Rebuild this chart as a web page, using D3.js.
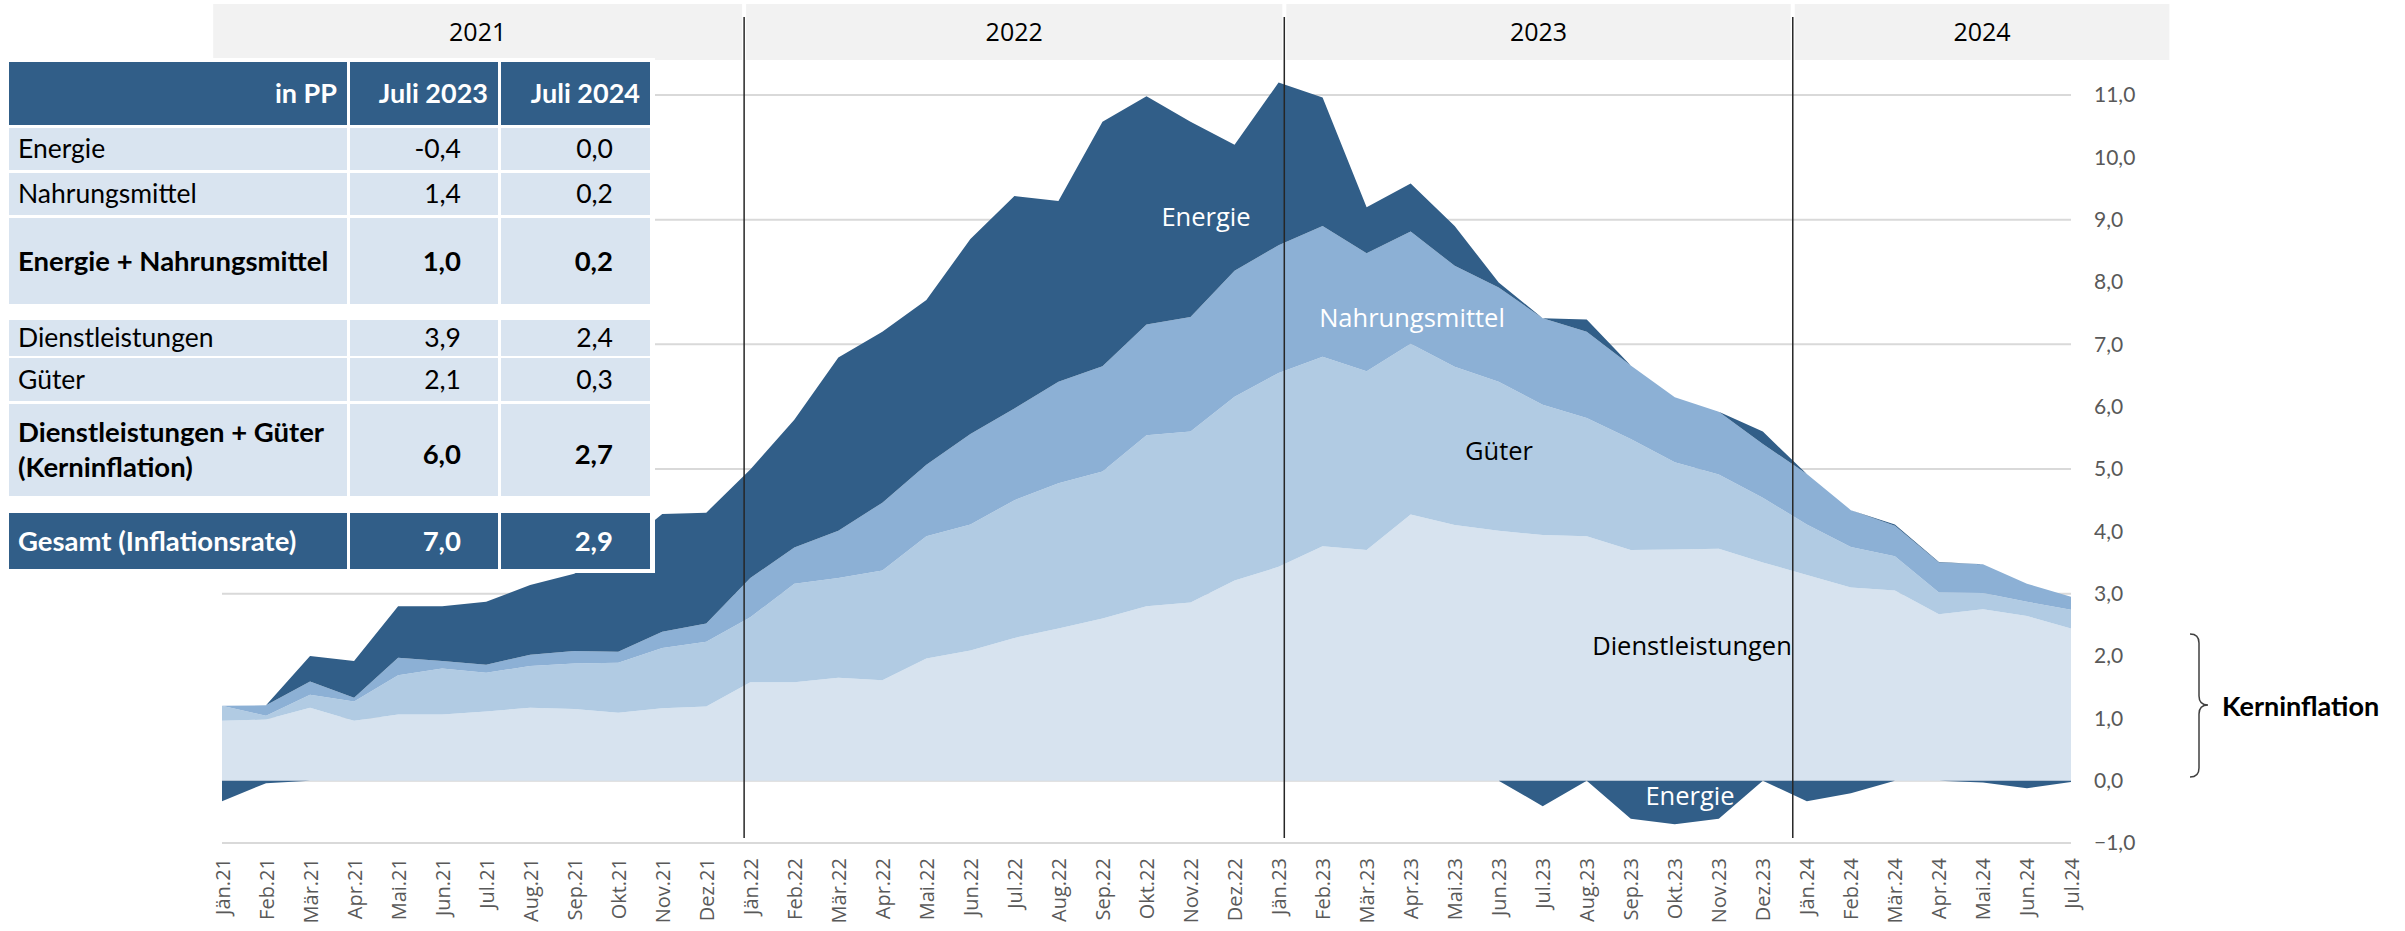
<!DOCTYPE html>
<html>
<head>
<meta charset="utf-8">
<script src="https://cdn.jsdelivr.net/npm/d3@7"></script>
<style>
  body { margin: 0; background: #fff; }
  svg { display: block; font-family: "Open Sans", sans-serif; }
  .tbl text { font-family: Lato, "Open Sans", sans-serif; }
</style>
</head>
<body>
<svg id="chart"></svg>
<script>
// Inflation contributions (pp) by component, Jän.21 - Jul.24

const months = [
  'Jän.21','Feb.21','Mär.21','Apr.21','Mai.21','Jun.21','Jul.21','Aug.21','Sep.21','Okt.21','Nov.21','Dez.21',
  'Jän.22','Feb.22','Mär.22','Apr.22','Mai.22','Jun.22','Jul.22','Aug.22','Sep.22','Okt.22','Nov.22','Dez.22',
  'Jän.23','Feb.23','Mär.23','Apr.23','Mai.23','Jun.23','Jul.23','Aug.23','Sep.23','Okt.23','Nov.23','Dez.23',
  'Jän.24','Feb.24','Mär.24','Apr.24','Mai.24','Jun.24','Jul.24'
];
const dienstleistungen = [
  0.96,0.98,1.17,0.96,1.06,1.06,1.11,1.17,1.15,1.09,1.16,1.19,
  1.58,1.58,1.65,1.61,1.96,2.09,2.29,2.44,2.60,2.80,2.86,3.21,
  3.43,3.76,3.70,4.27,4.10,4.01,3.94,3.92,3.70,3.71,3.72,3.50,
  3.30,3.10,3.05,2.67,2.75,2.64,2.44
];
const gueter = [
  0.24,0.06,0.21,0.31,0.63,0.74,0.62,0.67,0.73,0.80,0.97,1.04,
  1.04,1.58,1.60,1.76,1.96,2.02,2.21,2.33,2.36,2.74,2.74,2.95,
  3.11,3.04,2.87,2.74,2.54,2.39,2.09,1.90,1.78,1.40,1.19,1.04,
  0.81,0.65,0.55,0.35,0.26,0.23,0.30
];
const nahrungsmittel = [
  0.00,0.17,0.21,0.06,0.28,0.12,0.13,0.18,0.20,0.18,0.26,0.29,
  0.63,0.58,0.76,1.09,1.15,1.45,1.47,1.63,1.69,1.78,1.84,2.02,
  2.05,2.10,1.89,1.80,1.62,1.51,1.39,1.38,1.18,1.04,1.01,0.86,
  0.81,0.59,0.49,0.48,0.46,0.29,0.21
];
const energie = [
  -0.33,-0.04,0.41,0.59,0.83,0.88,1.01,1.12,1.24,1.63,1.89,1.78,
  1.74,2.05,2.78,2.74,2.64,3.13,3.41,2.90,3.92,3.66,3.13,2.02,
  2.61,2.06,0.74,0.77,0.64,0.08,-0.41,0.20,-0.61,-0.70,-0.61,0.20,
  -0.33,-0.20,0.02,0.01,-0.03,-0.12,-0.02
];

const yTicks = [-1,0,1,2,3,4,5,6,7,8,9,10,11];
const yGrid = [-1,0,1,3,5,7,9,11];
const years = ['2021','2022','2023','2024'];
// year bands in month-index units (divider lines sit at the inner edges)
const yearEdges = [-0.2, 11.86, 24.13, 35.68, 44.28];

const tableHead = ['in PP','Juli 2023','Juli 2024'];
const tableRows = [
  { label: ['Energie'], v1: '-0,4', v2: '0,0', kind: 'plain' },
  { label: ['Nahrungsmittel'], v1: '1,4', v2: '0,2', kind: 'plain' },
  { label: ['Energie + Nahrungsmittel'], v1: '1,0', v2: '0,2', kind: 'bold' },
  { label: ['Dienstleistungen'], v1: '3,9', v2: '2,4', kind: 'plain' },
  { label: ['Güter'], v1: '2,1', v2: '0,3', kind: 'plain' },
  { label: ['Dienstleistungen + Güter','(Kerninflation)'], v1: '6,0', v2: '2,7', kind: 'bold' },
  { label: ['Gesamt (Inflationsrate)'], v1: '7,0', v2: '2,9', kind: 'total' }
];

const COL = {
  energie: '#315e88',
  nahrung: '#8cb0d5',
  gueter: '#b1cbe3',
  dienst: '#d7e3ef',
  cell: '#d9e4f0',
  grid: '#d9d9d9',
  band: '#f2f2f2',
  text: '#595959'
};

const W = 2405, H = 931;
const svg = d3.select('#chart').attr('width', W).attr('height', H);

const x = d3.scaleLinear().domain([0, months.length - 1]).range([222, 2071]);
const y = d3.scaleLinear().domain([-1, 11]).range([843, 95]);

// year header bands
const bandG = svg.append('g');
years.forEach((yr, k) => {
  const x0 = x(yearEdges[k]) + (k ? 2 : 0), x1 = x(yearEdges[k + 1]) - 2;
  bandG.append('rect').attr('x', x0).attr('y', 4).attr('width', x1 - x0).attr('height', 56)
    .attr('fill', COL.band);
  bandG.append('text').attr('x', (x0 + x1) / 2).attr('y', 32).attr('dy', '0.35em')
    .attr('text-anchor', 'middle').attr('font-size', 25).attr('fill', '#000').text(yr);
});

// gridlines
svg.append('g').selectAll('line').data(yGrid).join('line')
  .attr('x1', x(0)).attr('x2', x(months.length - 1))
  .attr('y1', d => y(d)).attr('y2', d => y(d))
  .attr('stroke', COL.grid).attr('stroke-width', 2);

// stacked positive parts
const rows = months.map((m, i) => ({
  dienst: dienstleistungen[i],
  gueter: gueter[i],
  nahrung: nahrungsmittel[i],
  energie: Math.max(energie[i], 0),
  energieNeg: Math.min(energie[i], 0)
}));
const stack = d3.stack().keys(['dienst','gueter','nahrung','energie']);
const series = stack(rows);

const area = d3.area()
  .x((d, i) => x(i))
  .y0(d => y(d[0]))
  .y1(d => y(d[1]));

svg.append('g').selectAll('path').data(series).join('path')
  .attr('d', area)
  .attr('fill', d => COL[d.key]);

// negative energy below zero
const negArea = d3.area()
  .x((d, i) => x(i))
  .y0(y(0))
  .y1(d => y(d.energieNeg));
svg.append('path').datum(rows).attr('d', negArea).attr('fill', COL.energie);

// area labels
const labels = [
  { t: 'Energie', x: 1206, y: 217, c: '#fff' },
  { t: 'Nahrungsmittel', x: 1412, y: 318, c: '#fff' },
  { t: 'Güter', x: 1499, y: 451, c: '#000' },
  { t: 'Dienstleistungen', x: 1692, y: 646, c: '#000' },
  { t: 'Energie', x: 1690, y: 796, c: '#fff' }
];
svg.append('g').selectAll('text').data(labels).join('text')
  .attr('x', d => d.x).attr('y', d => d.y).attr('dy', '0.35em')
  .attr('text-anchor', 'middle').attr('font-size', 25.5).attr('fill', d => d.c)
  .text(d => d.t);

// year divider lines
svg.append('g').selectAll('line').data(yearEdges.slice(1, 4)).join('line')
  .attr('x1', d => x(d)).attr('x2', d => x(d))
  .attr('y1', 17).attr('y2', 838)
  .attr('stroke', '#262626').attr('stroke-width', 1.5);

// y axis (right)
const fmt = d3.formatLocale({ decimal: ',', thousands: '.', grouping: [3], currency: ['', ''] }).format('.1f');
const yAxis = svg.append('g').attr('transform', 'translate(2094,0)')
  .call(d3.axisRight(y).tickValues(yTicks).tickFormat(fmt).tickSize(0).tickPadding(0));
yAxis.select('.domain').remove();
yAxis.selectAll('text').attr('font-family', 'Lato, sans-serif').attr('font-size', 21).attr('fill', COL.text);

// x axis (rotated month labels)
const xAxis = svg.append('g').attr('transform', 'translate(0,858)')
  .call(d3.axisBottom(x).tickValues(d3.range(months.length)).tickFormat(i => months[i]).tickSize(0).tickPadding(0));
xAxis.select('.domain').remove();
xAxis.selectAll('text')
  .attr('font-family', '"Open Sans", sans-serif').attr('font-size', 20).attr('fill', COL.text)
  .attr('transform', 'rotate(-90)').attr('text-anchor', 'end')
  .attr('x', 0).attr('y', 0).attr('dy', '0.35em');

// Kerninflation brace
const bx = 2190;
svg.append('path')
  .attr('d', `M${bx},634 Q${bx + 9},634 ${bx + 9},643 V696 Q${bx + 9},705 ${bx + 18},705 Q${bx + 9},705 ${bx + 9},714 V768 Q${bx + 9},777 ${bx},777`)
  .attr('fill', 'none').attr('stroke', '#404040').attr('stroke-width', 1.5);
svg.append('text').attr('x', 2222).attr('y', 707).attr('dy', '0.35em')
  .attr('font-family', 'Lato, sans-serif').attr('font-weight', 700).attr('font-size', 27)
  .text('Kerninflation');

// table overlay
const colX = [[9, 347], [350, 498], [501, 650]];
const rowY = [[62, 125], [128, 170], [173, 215], [218, 304], [320, 356], [358, 401], [404, 496], [513, 569]];
const tbl = svg.append('g').attr('class', 'tbl');
tbl.append('rect').attr('x', 4).attr('y', 58).attr('width', 651).attr('height', 515).attr('fill', '#fff');

function cellRow(r, fill) {
  colX.forEach(c => {
    tbl.append('rect').attr('x', c[0]).attr('y', r[0]).attr('width', c[1] - c[0]).attr('height', r[1] - r[0])
      .attr('fill', fill);
  });
}

cellRow(rowY[0], COL.energie);
tableHead.forEach((h, k) => {
  tbl.append('text').attr('x', colX[k][1] - 10).attr('y', (rowY[0][0] + rowY[0][1]) / 2).attr('dy', '0.35em')
    .attr('text-anchor', 'end').attr('font-size', 27).attr('font-weight', 700).attr('fill', '#fff').text(h);
});

tableRows.forEach((row, k) => {
  const r = rowY[k + 1];
  const total = row.kind === 'total';
  cellRow(r, total ? COL.energie : COL.cell);
  const cy = (r[0] + r[1]) / 2;
  const fw = row.kind === 'plain' ? 400 : 700;
  const fs = row.kind === 'plain' ? 26.5 : 27.5;
  const fc = total ? '#fff' : '#000';
  const lh = 35;
  row.label.forEach((line, j) => {
    tbl.append('text').attr('x', 18).attr('y', cy + (j - (row.label.length - 1) / 2) * lh).attr('dy', '0.35em')
      .attr('font-size', fs).attr('font-weight', fw).attr('fill', fc).text(line);
  });
  [row.v1, row.v2].forEach((v, j) => {
    tbl.append('text').attr('x', colX[j + 1][1] - 37).attr('y', cy + (row.label.length > 1 ? 4 : 0)).attr('dy', '0.35em')
      .attr('text-anchor', 'end').attr('font-size', fs).attr('font-weight', fw).attr('fill', fc).text(v);
  });
});
</script>
</body>
</html>
